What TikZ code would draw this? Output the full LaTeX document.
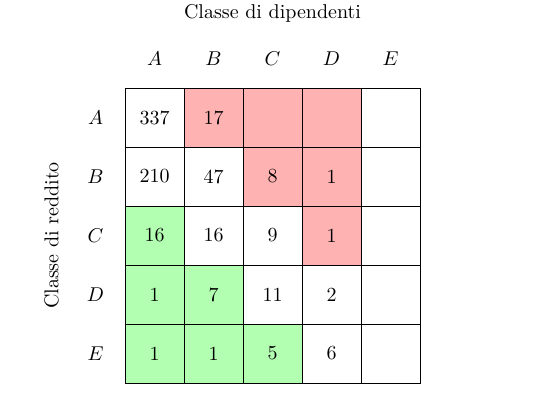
\documentclass[tikz,border=0pt]{standalone}
\usetikzlibrary{positioning}
\tikzstyle{cella}=[rectangle, draw=black, minimum size=29.5pt, inner sep=0pt, outer sep=0pt,
        text centered]
\tikzstyle{etichetta}=[rectangle, minimum size=29.5pt, inner sep=0pt, outer sep=0pt]
\tikzstyle{rosso}=[fill=red!30]
\tikzstyle{verde}=[fill=green!30]

\begin{document}
\begin{tikzpicture}[node distance=0pt]
    \useasboundingbox (0,0) rectangle (273.5pt,-206.5pt);

    % riga A
    \node (AA) [cella] at (77.25pt,-58.75pt) {337};
    \node (AB) [cella, rosso, right=of AA] {17};
    \node (AC) [cella, rosso, right=of AB] {};
    \node (AD) [cella, rosso, right=of AC] {};
    \node (AE) [cella, right=of AD] {};

    % riga B
    \node (BA) [cella, below=of AA] {210};
    \node (BB) [cella, right=of BA] {47};
    \node (BC) [cella, rosso, right=of BB] {8};
    \node (BD) [cella, rosso, right=of BC] {1};
    \node (BE) [cella, right=of BD] {};

    % riga C
    \node (CA) [cella, verde, below=of BA] {16};
    \node (CB) [cella, right=of CA] {16};
    \node (CC) [cella, right=of CB] {9};
    \node (CD) [cella, rosso, right=of CC] {1};
    \node (CE) [cella, right=of CD] {};

    % riga D
    \node (DA) [cella, verde, below=of CA] {1};
    \node (DB) [cella, verde, right=of DA] {7};
    \node (DC) [cella, right=of DB] {11};
    \node (DD) [cella, right=of DC] {2};
    \node (DE) [cella, right=of DD] {};

    % riga E
    \node (EA) [cella, verde, below=of DA] {1};
    \node (EB) [cella, verde, right=of EA] {1};
    \node (EC) [cella, verde, right=of EB] {5};
    \node (ED) [cella, right=of EC] {6};
    \node (EE) [cella, right=of ED] {};

    % intestazioni
    \node (colA) [etichetta, above=of AA] {$A$};
    \node (colB) [etichetta, above=of AB] {$B$};
    \node (colC) [etichetta, above=of AC] {$C$};
    \node (colD) [etichetta, above=of AD] {$D$};
    \node (colE) [etichetta, above=of AE] {$E$};

    \node (rigaA) [etichetta, left=of AA] {$A$};
    \node (rigaB) [etichetta, left=of BA] {$B$};
    \node (rigaC) [etichetta, left=of CA] {$C$};
    \node (rigaD) [etichetta, left=of DA] {$D$};
    \node (rigaE) [etichetta, left=of EA] {$E$};

    \node (dipendenti) [above=22.75pt of colC.center, anchor=center] {Classe di dipendenti};
    \node (reddito) [rotate=90, left=22pt of rigaC.center, anchor=center] {Classe di reddito};

\end{tikzpicture}
\end{document}
